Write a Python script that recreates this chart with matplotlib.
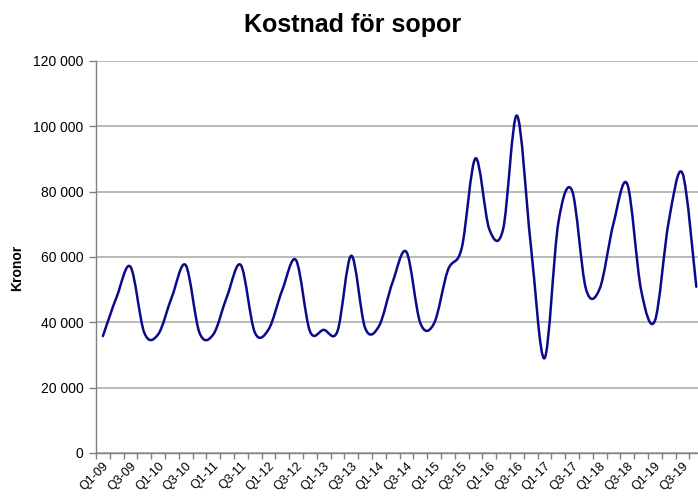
import matplotlib
matplotlib.use("Agg")
import matplotlib.pyplot as plt
from matplotlib.path import Path
from matplotlib.patches import PathPatch
from matplotlib.ticker import FuncFormatter, FixedLocator
import numpy as np

plt.rcParams['font.family'] = ['Liberation Sans', 'DejaVu Sans']

quarters = [f"Q{q}-{y:02d}" for y in range(9, 20) for q in range(1, 5)]
values = [
    35800, 47800, 57000, 36800,   # 2009
    36300, 47800, 57500, 36800,   # 2010
    36300, 48000, 57500, 37000,   # 2011
    37800, 49900, 59000, 37300,   # 2012
    37700, 37300, 60400, 38300,   # 2013
    38800, 52400, 61500, 39800,   # 2014
    39700, 56000, 62700, 90200,   # 2015
    68500, 68500, 103300, 64000,  # 2016
    29000, 70400, 80300, 50300,   # 2017
    50300, 70300, 82300, 49900,   # 2018
    40500, 70800, 85600, 50900,   # 2019
]
yticks = [0, 20000, 40000, 60000, 80000, 100000, 120000]

W, H = 698, 496
fig = plt.figure(figsize=(W / 100, H / 100), dpi=100)
left, right, bottom, top = 96, 698, 453, 61
ax = fig.add_axes([left / W, 1 - bottom / H, (right - left) / W, (bottom - top) / H])

x = np.arange(len(values))
y = np.array(values, dtype=float)

# Excel-like smoothed line (Catmull-Rom Bezier through the data points)
verts = [(x[0], y[0])]
codes = [Path.MOVETO]
n = len(x)
for i in range(n - 1):
    p0 = (x[i - 1], y[i - 1]) if i > 0 else (x[i], y[i])
    p1 = (x[i], y[i])
    p2 = (x[i + 1], y[i + 1])
    p3 = (x[i + 2], y[i + 2]) if i + 2 < n else (x[i + 1], y[i + 1])
    c1 = (p1[0] + (p2[0] - p0[0]) / 6, p1[1] + (p2[1] - p0[1]) / 6)
    c2 = (p2[0] - (p3[0] - p1[0]) / 6, p2[1] - (p3[1] - p1[1]) / 6)
    verts += [c1, c2, p2]
    codes += [Path.CURVE4] * 3
ax.add_patch(PathPatch(Path(verts, codes), facecolor='none', edgecolor='#0a0a8a',
                       lw=1.8, zorder=3, capstyle='round', joinstyle='round'))

ax.set_xlim(-0.5, -0.5 + (right - left) / 13.8)
ax.set_ylim(0, 120000)

ax.set_yticks(yticks)
ax.yaxis.set_major_formatter(FuncFormatter(lambda v, p: f"{int(v):,}".replace(",", " ")))
ax.grid(axis='y', color='#b4b4b4', lw=1.3, zorder=1)
ax.set_axisbelow(True)

ax.xaxis.set_major_locator(FixedLocator(list(range(0, n, 2))))
ax.set_xticklabels(quarters[::2], rotation=45, ha='right', va='top',
                   rotation_mode='anchor')
ax.xaxis.set_minor_locator(FixedLocator([i - 0.5 for i in range(n + 1)]))
ax.tick_params(axis='x', which='major', length=0, pad=5, labelsize=9)
ax.tick_params(axis='x', which='minor', length=4, color='#808080', width=1)
ax.tick_params(axis='y', length=5, color='#808080', width=1, labelsize=10, pad=4)

for s in ['top', 'right']:
    ax.spines[s].set_visible(False)
for s in ['left', 'bottom']:
    ax.spines[s].set_color('#808080')
    ax.spines[s].set_linewidth(1)

fig.text(353 / W, 1 - 25 / H, "Kostnad för sopor", ha='center', va='center',
         fontsize=18, fontweight='bold')
fig.text(17 / W, 1 - 268 / H, "Kronor", ha='center', va='center', rotation=90,
         fontsize=10, fontweight='bold')

fig.savefig("out.png", dpi=100)
